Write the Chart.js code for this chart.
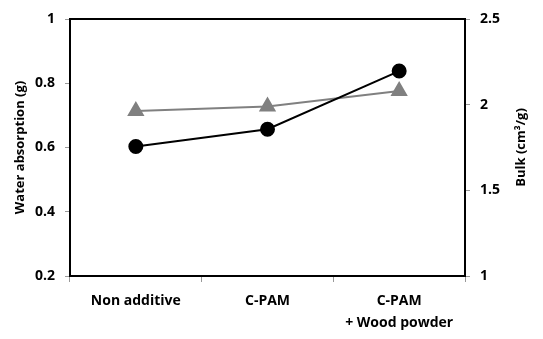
<!DOCTYPE html>
<html>
<head>
<meta charset="utf-8">
<script src="https://cdn.jsdelivr.net/npm/chart.js@4/dist/chart.umd.min.js"></script>
<style>
  html, body { margin: 0; padding: 0; background: #fff; }
  #wrap { width: 543px; height: 339px; }
</style>
</head>
<body>
<div id="wrap"><canvas id="chart"></canvas></div>
<script>
// data
const categories = ['Non additive', 'C-PAM', ['C-PAM', '+ Wood powder']];
const waterAbsorption = [0.603, 0.657, 0.838];
const bulk = [1.963, 1.99, 2.08];
const leftTicks = [0.2, 0.4, 0.6, 0.8, 1];
const rightTicks = [1, 1.5, 2, 2.5];
const leftTitle = 'Water absorption (g)';
const rightTitle = 'Bulk (cm³/g)';

const tickFont = { family: 'Open Sans', size: 14, weight: 'bold' };
const fmt = v => String(Number(v.toFixed(2)));

// box top edge and the two axis titles (both read bottom to top)
const frame = {
    id: 'frame',
    afterDatasetsDraw(chart) {
        const { ctx, chartArea: a } = chart;
        ctx.save();
        ctx.strokeStyle = '#000';
        ctx.lineWidth = 2;
        ctx.beginPath();
        ctx.moveTo(a.left, a.top);
        ctx.lineTo(a.right, a.top);
        ctx.stroke();

        ctx.fillStyle = '#000';
        ctx.font = 'bold 13px "Open Sans"';
        ctx.textAlign = 'center';
        ctx.textBaseline = 'middle';
        const midY = (a.top + a.bottom) / 2;
        [[20, leftTitle], [521, rightTitle]].forEach(([x, text]) => {
            ctx.save();
            ctx.translate(x, midY);
            ctx.rotate(-Math.PI / 2);
            ctx.fillText(text, 0, 0);
            ctx.restore();
        });
        ctx.restore();
    }
};

new Chart(document.getElementById('chart'), {
    type: 'line',
    data: {
        labels: categories,
        datasets: [{
            label: 'Water absorption',
            data: waterAbsorption,
            yAxisID: 'y',
            borderColor: '#000',
            backgroundColor: '#000',
            borderWidth: 2,
            pointStyle: 'circle',
            pointRadius: 6.5,
            pointHoverRadius: 6.5
        }, {
            label: 'Bulk',
            data: bulk,
            yAxisID: 'y2',
            borderColor: '#808080',
            backgroundColor: '#808080',
            borderWidth: 2,
            pointStyle: 'triangle',
            pointRadius: 8,
            pointHoverRadius: 8
        }]
    },
    options: {
        responsive: true,
        maintainAspectRatio: false,
        animation: false,
        layout: { padding: { top: 19, right: 0, left: 0, bottom: 0 } },
        plugins: { legend: { display: false }, tooltip: { enabled: false } },
        scales: {
            x: {
                offset: true,
                grid: { offset: true, drawOnChartArea: false, drawTicks: true, tickLength: 6, color: '#999' },
                border: { display: true, color: '#000', width: 2 },
                ticks: { color: '#000', font: { ...tickFont, lineHeight: 1.55 }, padding: 8, maxRotation: 0 },
                afterFit(s) { s.height = 63; }
            },
            y: {
                position: 'left',
                min: 0.2,
                max: 1,
                afterBuildTicks(s) { s.ticks = leftTicks.map(v => ({ value: v })); },
                grid: { drawOnChartArea: false, drawTicks: true, tickLength: 5, color: '#999' },
                border: { display: true, color: '#000', width: 2 },
                ticks: { color: '#000', font: tickFont, padding: 10, callback: fmt },
                afterFit(s) { s.width = 70; }
            },
            y2: {
                position: 'right',
                min: 1,
                max: 2.5,
                afterBuildTicks(s) { s.ticks = rightTicks.map(v => ({ value: v })); },
                grid: { drawOnChartArea: false, drawTicks: true, tickLength: 5, color: '#999' },
                border: { display: true, color: '#000', width: 2 },
                ticks: { color: '#000', font: tickFont, padding: 10, callback: fmt },
                afterFit(s) { s.width = 78; }
            }
        }
    },
    plugins: [frame]
});
</script>
</body>
</html>
